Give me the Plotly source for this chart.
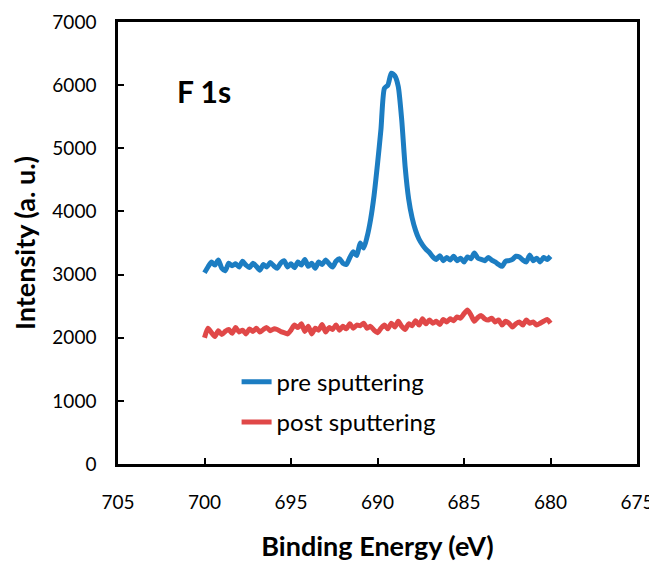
import plotly.graph_objects as go

energy = [700.0, 699.8, 699.6, 699.4, 699.2, 699.0, 698.8, 698.6, 698.4, 698.2,
          698.0, 697.8, 697.6, 697.4, 697.2, 697.0, 696.8, 696.6, 696.4, 696.2,
          696.0, 695.8, 695.6, 695.4, 695.2, 695.0, 694.8, 694.6, 694.4, 694.2,
          694.0, 693.8, 693.6, 693.4, 693.2, 693.0, 692.8, 692.6, 692.4, 692.2,
          692.0, 691.8, 691.6, 691.4, 691.2, 691.0, 690.8, 690.6, 690.4, 690.2,
          690.0, 689.8, 689.6, 689.4, 689.2, 689.0, 688.8, 688.6, 688.4, 688.2,
          688.0, 687.8, 687.6, 687.4, 687.2, 687.0, 686.8, 686.6, 686.4, 686.2,
          686.0, 685.8, 685.6, 685.4, 685.2, 685.0, 684.8, 684.6, 684.4, 684.2,
          684.0, 683.8, 683.6, 683.4, 683.2, 683.0, 682.8, 682.6, 682.4, 682.2,
          682.0, 681.8, 681.6, 681.4, 681.2, 681.0, 680.8, 680.6, 680.4, 680.2,
          680.0]

pre_sputtering = [3030, 3120, 3200, 3150, 3230, 3100, 3060, 3180, 3140, 3170,
                  3120, 3210, 3150, 3110, 3180, 3130, 3070, 3160, 3120, 3190,
                  3140, 3100, 3180, 3220, 3120, 3170, 3110, 3200, 3150, 3240,
                  3130, 3180, 3100, 3200, 3160, 3230, 3170, 3120, 3210, 3250,
                  3180, 3160, 3270, 3360, 3300, 3500, 3420, 3600, 3870, 4250,
                  4750, 5300, 5950, 6000, 6190, 6150, 5980, 5450, 4700, 4200,
                  3900, 3700, 3560, 3470, 3400, 3350, 3280, 3240, 3300, 3220,
                  3270, 3230, 3290, 3220, 3260, 3200, 3280, 3250, 3340, 3260,
                  3240, 3220, 3270, 3230, 3200, 3160, 3130, 3210, 3220, 3240,
                  3290, 3280, 3230, 3200, 3310, 3220, 3260, 3200, 3270, 3240,
                  3290]

post_sputtering = [2000, 2150, 2080, 2020, 2110, 2050, 2100, 2130, 2070, 2160,
                   2090, 2120, 2060, 2140, 2100, 2150, 2090, 2130, 2160, 2110,
                   2140, 2130, 2100, 2080, 2060, 2120, 2200, 2160, 2220, 2100,
                   2180, 2060, 2150, 2120, 2210, 2090, 2160, 2130, 2200, 2120,
                   2180, 2140, 2220, 2150, 2200, 2190, 2230, 2150, 2180, 2120,
                   2080, 2150, 2200, 2140, 2230, 2170, 2260, 2180, 2130, 2220,
                   2190, 2270, 2200, 2300, 2220, 2280, 2230, 2260, 2210, 2290,
                   2250, 2300, 2270, 2330, 2310, 2380, 2440, 2360, 2260, 2320,
                   2350, 2300, 2280, 2310, 2250, 2280, 2200, 2260, 2230, 2170,
                   2220, 2250, 2200, 2280, 2230, 2250, 2200, 2230, 2260, 2290,
                   2230]

series_names = ["pre sputtering", "post sputtering"]
x_ticks = [705, 700, 695, 690, 685, 680, 675]
y_ticks = [0, 1000, 2000, 3000, 4000, 5000, 6000, 7000]
peak_label = "F 1s"

FONT = "Lato"
fig = go.Figure()
fig.add_trace(go.Scatter(x=energy, y=pre_sputtering, mode="lines", name=series_names[0],
                         legendgroup="a",
                         line=dict(color="#1C7DC2", width=5, shape="spline", smoothing=0.6)))
fig.add_trace(go.Scatter(x=energy, y=post_sputtering, mode="lines", name=series_names[1],
                         legendgroup="b",
                         line=dict(color="#E04848", width=5, shape="spline", smoothing=0.6)))

axis_common = dict(showline=True, linecolor="black", linewidth=2.5, mirror=True,
                   ticks="inside", ticklen=6, tickwidth=2, tickcolor="black",
                   showgrid=False, zeroline=False, automargin=False,
                   tickfont=dict(family=FONT, size=19, color="black"))

fig.update_xaxes(range=[705, 675], tickvals=x_ticks, ticklabelstandoff=19,
                 title=dict(text="<b>Binding Energy (eV)</b>", standoff=26,
                            font=dict(family=FONT, size=27, color="black")),
                 **axis_common)
fig.update_yaxes(range=[0, 7000], tickvals=y_ticks, ticklabelstandoff=15,
                 title=dict(text="<b>Intensity (a. u.)</b>", standoff=12,
                            font=dict(family=FONT, size=27, color="black")),
                 **axis_common)

fig.add_annotation(x=701.7, y=5915, text="<b>" + peak_label + "</b>", showarrow=False,
                   xanchor="left", yanchor="middle",
                   font=dict(family=FONT, size=30, color="black"))

fig.update_layout(
    width=657, height=561,
    margin=dict(l=110, r=28, t=14, b=105),
    plot_bgcolor="white", paper_bgcolor="white",
    showlegend=True,
    legend=dict(x=0.2285, y=0.14, xanchor="left", yanchor="middle",
                bgcolor="rgba(0,0,0,0)", tracegroupgap=6,
                font=dict(family=FONT, size=24, color="black")),
)

fig.write_html("out.html")
